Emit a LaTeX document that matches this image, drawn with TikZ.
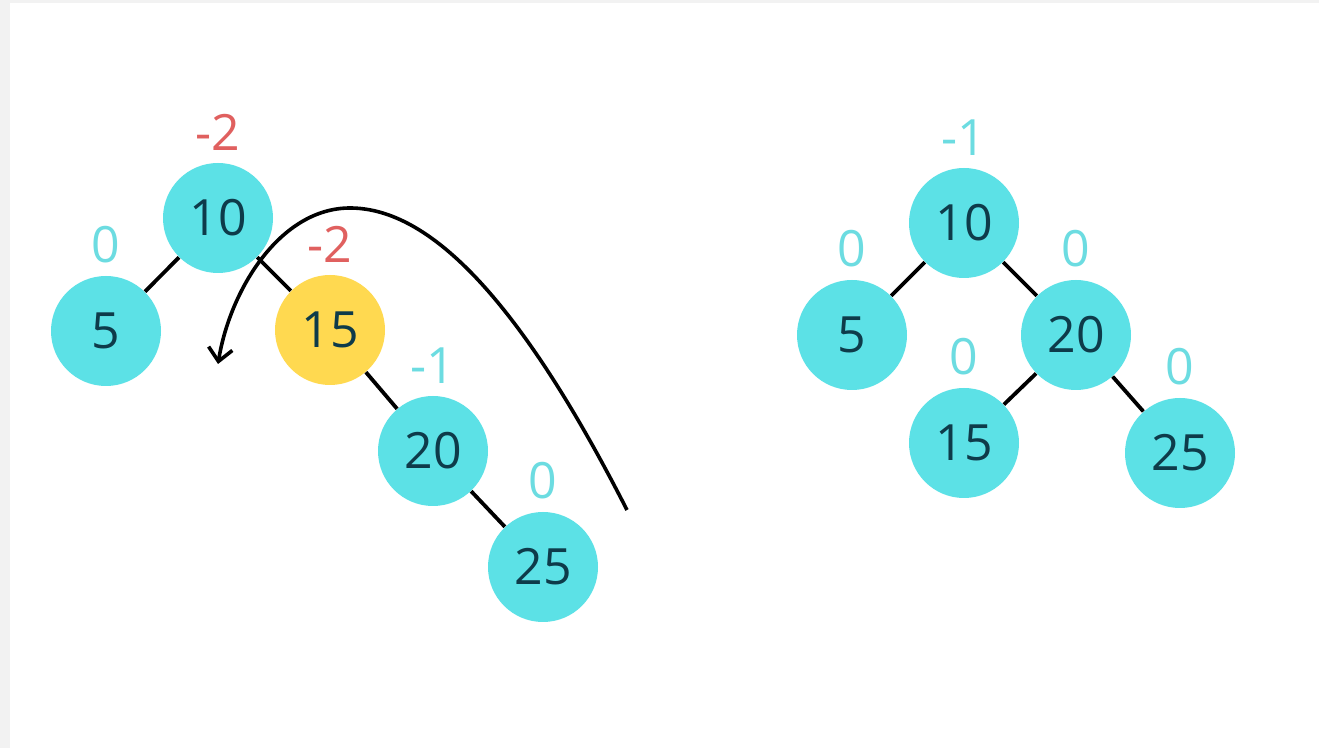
\documentclass[tikz,border=0pt]{standalone}
\usepackage{fontspec}
\setmainfont{Open Sans}
\usepackage{xcolor}
\usepackage{tikz}
\usetikzlibrary{positioning,arrows.meta}
\definecolor{avlcyan}{HTML}{5CE1E6}
\definecolor{avlyellow}{HTML}{FFD950}
\definecolor{avltext}{HTML}{0E3B4A}
\definecolor{balred}{HTML}{E0605F}
\definecolor{balcyan}{HTML}{6CDCE1}
\definecolor{pagegray}{HTML}{F2F2F2}

\begin{document}
\begin{tikzpicture}[x=0.5pt,y=-0.5pt,
avl/.style={circle,fill=avlcyan,minimum size=55pt,inner sep=0pt,text=avltext,
font=\fontsize{25}{29}\selectfont},
bal/.style={inner sep=0pt,font=\fontsize{25}{29}\selectfont,text=balcyan},
balbad/.style={bal,text=balred},
link/.style={line width=1.9pt,black},
rot/.style={line width=1.8pt,black,-{Straight Barb[length=6.5pt,width=12pt,line width=1.8pt]}}]
\useasboundingbox (0,0) rectangle (1319,748);
\fill[pagegray] (0,0) rectangle (1319,748);
\fill[white] (10,3) rectangle (1319,748);
% before: right-right case at 10
\node[avl] (l10) at (218,218) {10};
\node[avl] (l5) at (106,331) {5};
\node[avl,fill=avlyellow] (l15) at (330,330) {15};
\node[avl] (l20) at (433,451) {20};
\node[avl] (l25) at (543,567) {25};
\node[balbad,above=6pt of l10] (bl10) {-2};
\node[bal,above=6pt of l5] (bl5) {0};
\node[balbad,above=6pt of l15] (bl15) {-2};
\node[bal,above=6pt of l20] (bl20) {-1};
\node[bal,above=6pt of l25] (bl25) {0};
\draw[link] (l10) -- (l5);
\draw[link] (l10) -- (l15);
\draw[link] (l15) -- (l20);
\draw[link] (l20) -- (l25);
% rotation arrow
\coordinate (rs) at (627,510);
\coordinate (rtop) at (350,208);
\coordinate (re) at (218,364);
\draw[rot] (rs) .. controls (520,300) and (430,208) .. (rtop)
  .. controls (280,208) and (230,290) .. (re);
% after rotation
\node[avl] (r10) at (964,223) {10};
\node[avl] (r5) at (852,335) {5};
\node[avl] (r20) at (1076,335) {20};
\node[avl] (r15) at (964,443) {15};
\node[avl] (r25) at (1180,453) {25};
\node[bal,above=6pt of r10] (br10) {-1};
\node[bal,above=6pt of r5] (br5) {0};
\node[bal,above=6pt of r20] (br20) {0};
\node[bal,above=6pt of r15] (br15) {0};
\node[bal,above=6pt of r25] (br25) {0};
\draw[link] (r10) -- (r5);
\draw[link] (r10) -- (r20);
\draw[link] (r20) -- (r15);
\draw[link] (r20) -- (r25);
\end{tikzpicture}
\end{document}
